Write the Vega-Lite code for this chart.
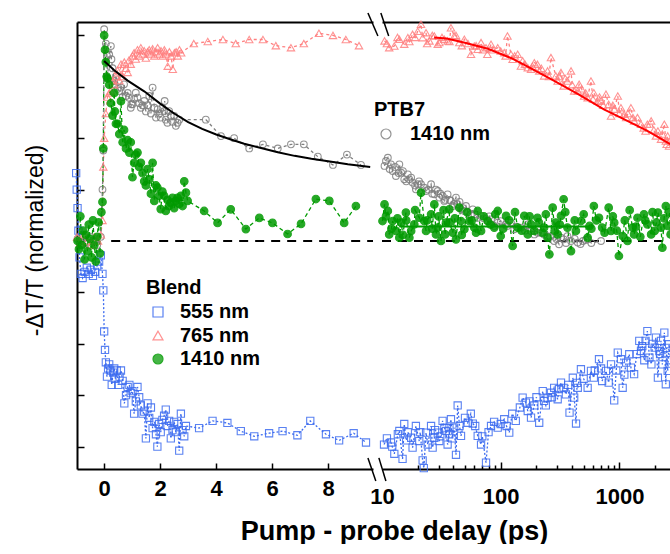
{
  "$schema": "https://vega.github.io/schema/vega-lite/v6.json",
  "padding": {"left": 24, "top": 12, "right": 0, "bottom": 0},
  "bounds": "flush",
  "spacing": 9,
  "config": {
    "view": {"stroke": null},
    "font": "Liberation Sans",
    "axis": {"grid": false, "domainColor": "black", "tickColor": "black", "labelColor": "black", "titleColor": "black", "labelFont": "Liberation Sans", "titleFont": "Liberation Sans"},
    "legend": {"labelFont": "Liberation Sans", "titleFont": "Liberation Sans", "labelColor": "black", "titleColor": "black"}
  },
  "datasets": {
    "d": [
      {"k":"b555","t":-1,"v":0.33},{"k":"b555","t":-0.98,"v":0.25},{"k":"b555","t":-0.95,"v":0.16},{"k":"b555","t":-0.92,"v":0.05},{"k":"b555","t":-0.88,"v":-0.08},{"k":"b555","t":-0.83,"v":-0.16},{"k":"b555","t":-0.77,"v":-0.18},{"k":"b555","t":-0.7,"v":-0.15},{"k":"b555","t":-0.62,"v":-0.13},{"k":"b555","t":-0.55,"v":-0.16},{"k":"b555","t":-0.48,"v":-0.14},{"k":"b555","t":-0.4,"v":-0.17},{"k":"b555","t":-0.33,"v":-0.15},{"k":"b555","t":-0.25,"v":-0.12},{"k":"b555","t":-0.18,"v":-0.1},{"k":"b555","t":-0.12,"v":-0.07},{"k":"b555","t":-0.06,"v":-0.16},{"k":"b555","t":-0.03,"v":-0.24},{"k":"b555","t":0,"v":-0.44},{"k":"b555","t":0.03,"v":-0.53},{"k":"b555","t":0.06,"v":-0.59},{"k":"b555","t":0.1,"v":-0.66},{"k":"b555","t":0.14,"v":-0.62},{"k":"b555","t":0.18,"v":-0.6},{"k":"b555","t":0.22,"v":-0.63},{"k":"b555","t":0.27,"v":-0.7},{"k":"b555","t":0.32,"v":-0.64},{"k":"b555","t":0.36,"v":-0.62},{"k":"b555","t":0.4,"v":-0.67},{"k":"b555","t":0.45,"v":-0.63},{"k":"b555","t":0.5,"v":-0.7},{"k":"b555","t":0.55,"v":-0.66},{"k":"b555","t":0.6,"v":-0.63},{"k":"b555","t":0.66,"v":-0.68},{"k":"b555","t":0.72,"v":-0.79},{"k":"b555","t":0.78,"v":-0.75},{"k":"b555","t":0.84,"v":-0.71},{"k":"b555","t":0.9,"v":-0.7},{"k":"b555","t":0.95,"v":-0.74},{"k":"b555","t":1.01,"v":-0.73},{"k":"b555","t":1.07,"v":-0.84},{"k":"b555","t":1.13,"v":-0.78},{"k":"b555","t":1.19,"v":-0.71},{"k":"b555","t":1.25,"v":-0.76},{"k":"b555","t":1.31,"v":-0.8},{"k":"b555","t":1.37,"v":-0.84},{"k":"b555","t":1.43,"v":-0.83},{"k":"b555","t":1.49,"v":-0.96},{"k":"b555","t":1.55,"v":-0.79},{"k":"b555","t":1.61,"v":-0.86},{"k":"b555","t":1.67,"v":-0.81},{"k":"b555","t":1.73,"v":-0.91},{"k":"b555","t":1.79,"v":-0.88},{"k":"b555","t":1.85,"v":-0.94},{"k":"b555","t":1.9,"v":-1},{"k":"b555","t":1.96,"v":-0.89},{"k":"b555","t":2.02,"v":-0.93},{"k":"b555","t":2.08,"v":-0.87},{"k":"b555","t":2.14,"v":-0.85},{"k":"b555","t":2.2,"v":-0.82},{"k":"b555","t":2.26,"v":-0.9},{"k":"b555","t":2.32,"v":-0.875},{"k":"b555","t":2.38,"v":-0.96},{"k":"b555","t":2.44,"v":-0.92},{"k":"b555","t":2.5,"v":-0.88},{"k":"b555","t":2.56,"v":-0.93},{"k":"b555","t":2.62,"v":-0.89},{"k":"b555","t":2.68,"v":-1.02},{"k":"b555","t":2.74,"v":-0.84},{"k":"b555","t":2.8,"v":-0.92},{"k":"b555","t":2.86,"v":-0.95},{"k":"b555","t":2.92,"v":-0.9},{"k":"b555","t":3.39,"v":-0.91},{"k":"b555","t":3.87,"v":-0.875},{"k":"b555","t":4.4,"v":-0.885},{"k":"b555","t":4.88,"v":-0.925},{"k":"b555","t":5.36,"v":-0.95},{"k":"b555","t":5.89,"v":-0.935},{"k":"b555","t":6.37,"v":-0.925},{"k":"b555","t":6.9,"v":-0.945},{"k":"b555","t":7.36,"v":-0.875},{"k":"b555","t":7.92,"v":-0.94},{"k":"b555","t":8.39,"v":-0.97},{"k":"b555","t":8.91,"v":-0.935},{"k":"b555","t":9.35,"v":-0.98},
      {"k":"b555","t":10.4,"v":-0.99},{"k":"b555","t":11.9,"v":-0.98},{"k":"b555","t":13.6,"v":-0.94},{"k":"b555","t":12.7,"v":-1.035},{"k":"b555","t":14.9,"v":-1.06},{"k":"b555","t":15.4,"v":-0.89},{"k":"b555","t":16.5,"v":-0.93},{"k":"b555","t":18.1,"v":-1.005},{"k":"b555","t":19.3,"v":-0.9},{"k":"b555","t":22,"v":-1.067},{"k":"b555","t":22.5,"v":-1.105},{"k":"b555","t":24.3,"v":-0.99},{"k":"b555","t":25.9,"v":-0.9},{"k":"b555","t":27.6,"v":-0.957},{"k":"b555","t":29.5,"v":-0.932},{"k":"b555","t":32.4,"v":-0.875},{"k":"b555","t":34.6,"v":-0.924},{"k":"b555","t":35.7,"v":-0.99},{"k":"b555","t":38.1,"v":-0.867},{"k":"b555","t":42,"v":-1.04},{"k":"b555","t":43.4,"v":-0.8},{"k":"b555","t":46.3,"v":-0.948},{"k":"b555","t":52.7,"v":-0.884},{"k":"b555","t":58.2,"v":-0.888},{"k":"b555","t":64,"v":-0.948},{"k":"b555","t":68.3,"v":-0.99},{"k":"b555","t":75.2,"v":-1.078},{"k":"b555","t":82.9,"v":-0.9},{"k":"b555","t":94.4,"v":-0.908},{"k":"b555","t":107,"v":-0.867},{"k":"b555","t":118,"v":-0.932},{"k":"b555","t":134,"v":-0.875},{"k":"b555","t":153,"v":-0.762},{"k":"b555","t":169,"v":-0.827},{"k":"b555","t":192,"v":-0.8},{"k":"b555","t":211,"v":-0.884},{"k":"b555","t":226,"v":-0.73},{"k":"b555","t":248,"v":-0.762},{"k":"b555","t":282,"v":-0.714},{"k":"b555","t":322,"v":-0.689},{"k":"b555","t":354,"v":-0.746},{"k":"b555","t":380,"v":-0.835},{"k":"b555","t":405,"v":-0.665},{"k":"b555","t":431,"v":-0.888},{"k":"b555","t":474,"v":-0.624},{"k":"b555","t":540,"v":-0.714},{"k":"b555","t":576,"v":-0.632},{"k":"b555","t":673,"v":-0.575},{"k":"b555","t":715,"v":-0.681},{"k":"b555","t":812,"v":-0.689},{"k":"b555","t":904,"v":-0.775},{"k":"b555","t":969,"v":-0.543},{"k":"b555","t":1065,"v":-0.714},{"k":"b555","t":1140,"v":-0.592},{"k":"b555","t":1210,"v":-0.551},{"k":"b555","t":1330,"v":-0.648},{"k":"b555","t":1470,"v":-0.486},{"k":"b555","t":1560,"v":-0.511},{"k":"b555","t":1720,"v":-0.438},{"k":"b555","t":1860,"v":-0.6},{"k":"b555","t":1980,"v":-0.519},{"k":"b555","t":2110,"v":-0.665},{"k":"b555","t":2240,"v":-0.486},{"k":"b555","t":2390,"v":-0.446},{"k":"b555","t":2460,"v":-0.697},{"k":"b555","t":2620,"v":-0.502},{"k":"b555","t":14,"v":-0.924},{"k":"b555","t":17.6,"v":-0.957},{"k":"b555","t":20.6,"v":-0.973},{"k":"b555","t":23.5,"v":-0.932},{"k":"b555","t":26.7,"v":-1.005},{"k":"b555","t":30.4,"v":-0.973},{"k":"b555","t":33.5,"v":-0.908},{"k":"b555","t":36.9,"v":-0.94},{"k":"b555","t":40.6,"v":-0.908},{"k":"b555","t":163,"v":-0.786},{"k":"b555","t":180,"v":-0.859},{"k":"b555","t":232,"v":-0.778},{"k":"b555","t":265,"v":-0.738},{"k":"b555","t":302,"v":-0.77},{"k":"b555","t":339,"v":-0.714},{"k":"b555","t":416,"v":-0.762},{"k":"b555","t":446,"v":-0.714},{"k":"b555","t":609,"v":-0.665},{"k":"b555","t":771,"v":-0.632},{"k":"b555","t":1030,"v":-0.575},{"k":"b555","t":1250,"v":-0.616},{"k":"b555","t":1520,"v":-0.535},{"k":"b555","t":1660,"v":-0.486},{"k":"b555","t":1790,"v":-0.567},{"k":"b555","t":2030,"v":-0.47},{"k":"b555","t":2170,"v":-0.535},{"k":"b555","t":2300,"v":-0.6},{"k":"b555","t":2550,"v":-0.632},
      {"k":"b555","t":11,"v":-0.96},{"k":"b555","t":12.2,"v":-1},{"k":"b555","t":16,"v":-0.97},{"k":"b555","t":21,"v":-0.93},{"k":"b555","t":28,"v":-0.92},{"k":"b555","t":31,"v":-0.95},{"k":"b555","t":37,"v":-0.91},{"k":"b555","t":39,"v":-0.96},{"k":"b555","t":45,"v":-0.9},{"k":"b555","t":50,"v":-0.86},{"k":"b555","t":56,"v":-0.84},{"k":"b555","t":61,"v":-0.9},{"k":"b555","t":70,"v":-0.95},{"k":"b555","t":79,"v":-0.93},{"k":"b555","t":88,"v":-0.88},{"k":"b555","t":100,"v":-0.89},{"k":"b555","t":112,"v":-0.9},{"k":"b555","t":125,"v":-0.84},{"k":"b555","t":145,"v":-0.81},{"k":"b555","t":175,"v":-0.78},{"k":"b555","t":200,"v":-0.76},{"k":"b555","t":240,"v":-0.8},{"k":"b555","t":270,"v":-0.76},{"k":"b555","t":310,"v":-0.72},{"k":"b555","t":370,"v":-0.7},{"k":"b555","t":440,"v":-0.69},{"k":"b555","t":500,"v":-0.67},{"k":"b555","t":620,"v":-0.63},{"k":"b555","t":700,"v":-0.62},{"k":"b555","t":850,"v":-0.6},{"k":"b555","t":940,"v":-0.63},{"k":"b555","t":1100,"v":-0.65},{"k":"b555","t":1400,"v":-0.55},{"k":"b555","t":1620,"v":-0.58},{"k":"b555","t":1900,"v":-0.5},{"k":"b555","t":2200,"v":-0.55},{"k":"b555","t":2500,"v":-0.52},{"k":"b555","t":2700,"v":-0.58},
      {"k":"b765","t":-0.97,"v":0.02},{"k":"b765","t":-0.85,"v":-0.01},{"k":"b765","t":-0.72,"v":0.03},{"k":"b765","t":-0.6,"v":0},{"k":"b765","t":-0.47,"v":-0.02},{"k":"b765","t":-0.35,"v":0.02},{"k":"b765","t":-0.22,"v":0},{"k":"b765","t":-0.12,"v":0.03},{"k":"b765","t":-0.06,"v":0.1},{"k":"b765","t":-0.03,"v":0.36},{"k":"b765","t":0,"v":0.5},{"k":"b765","t":0.06,"v":0.62},{"k":"b765","t":0.12,"v":0.7},{"k":"b765","t":0.18,"v":0.72},{"k":"b765","t":0.24,"v":0.73},{"k":"b765","t":0.3,"v":0.78},{"k":"b765","t":0.36,"v":0.76},{"k":"b765","t":0.42,"v":0.8},{"k":"b765","t":0.48,"v":0.83},{"k":"b765","t":0.54,"v":0.78},{"k":"b765","t":0.6,"v":0.86},{"k":"b765","t":0.66,"v":0.8},{"k":"b765","t":0.72,"v":0.87},{"k":"b765","t":0.78,"v":0.84},{"k":"b765","t":0.84,"v":0.82},{"k":"b765","t":0.89,"v":0.88},{"k":"b765","t":0.95,"v":0.86},{"k":"b765","t":1.01,"v":0.9},{"k":"b765","t":1.07,"v":0.915},{"k":"b765","t":1.13,"v":0.885},{"k":"b765","t":1.19,"v":0.93},{"k":"b765","t":1.25,"v":0.9},{"k":"b765","t":1.31,"v":0.94},{"k":"b765","t":1.37,"v":0.91},{"k":"b765","t":1.43,"v":0.925},{"k":"b765","t":1.49,"v":0.89},{"k":"b765","t":1.55,"v":0.92},{"k":"b765","t":1.61,"v":0.93},{"k":"b765","t":1.67,"v":0.91},{"k":"b765","t":1.73,"v":0.935},{"k":"b765","t":1.79,"v":0.9},{"k":"b765","t":1.85,"v":0.92},{"k":"b765","t":1.91,"v":0.94},{"k":"b765","t":1.97,"v":0.91},{"k":"b765","t":2.03,"v":0.925},{"k":"b765","t":2.09,"v":0.9},{"k":"b765","t":2.15,"v":0.93},{"k":"b765","t":2.21,"v":0.91},{"k":"b765","t":2.27,"v":0.85},{"k":"b765","t":2.33,"v":0.92},{"k":"b765","t":2.39,"v":0.9},{"k":"b765","t":2.45,"v":0.835},{"k":"b765","t":2.51,"v":0.915},{"k":"b765","t":2.57,"v":0.92},{"k":"b765","t":2.63,"v":0.9},{"k":"b765","t":2.69,"v":0.93},{"k":"b765","t":2.75,"v":0.915},{"k":"b765","t":3.2,"v":0.96},{"k":"b765","t":3.7,"v":0.97},{"k":"b765","t":4.24,"v":0.98},{"k":"b765","t":4.7,"v":0.96},{"k":"b765","t":5.18,"v":0.98},{"k":"b765","t":5.67,"v":0.98},{"k":"b765","t":6.13,"v":0.95},{"k":"b765","t":6.67,"v":0.94},{"k":"b765","t":7.13,"v":0.96},{"k":"b765","t":7.67,"v":1.01},{"k":"b765","t":8.17,"v":1},{"k":"b765","t":8.63,"v":0.98},{"k":"b765","t":9.1,"v":0.95},
      {"k":"b765","t":10.5,"v":0.973},{"k":"b765","t":11.5,"v":0.94},{"k":"b765","t":12.7,"v":0.948},{"k":"b765","t":14,"v":0.981},{"k":"b765","t":15.4,"v":0.957},{"k":"b765","t":16.5,"v":0.989},{"k":"b765","t":18.1,"v":1.005},{"k":"b765","t":20,"v":1.02},{"k":"b765","t":21.3,"v":1.054},{"k":"b765","t":22,"v":0.989},{"k":"b765","t":23.5,"v":1.013},{"k":"b765","t":25.1,"v":0.973},{"k":"b765","t":27.6,"v":0.997},{"k":"b765","t":30.4,"v":0.965},{"k":"b765","t":33.5,"v":0.981},{"k":"b765","t":38.1,"v":1.037},{"k":"b765","t":40.6,"v":0.997},{"k":"b765","t":44.8,"v":0.965},{"k":"b765","t":49.4,"v":0.981},{"k":"b765","t":56.2,"v":0.908},{"k":"b765","t":59.9,"v":0.948},{"k":"b765","t":68.3,"v":0.965},{"k":"b765","t":75.2,"v":0.94},{"k":"b765","t":82.9,"v":0.957},{"k":"b765","t":94.4,"v":0.94},{"k":"b765","t":107,"v":0.916},{"k":"b765","t":114,"v":0.997},{"k":"b765","t":126,"v":0.884},{"k":"b765","t":139,"v":0.908},{"k":"b765","t":153,"v":0.876},{"k":"b765","t":169,"v":0.843},{"k":"b765","t":192,"v":0.867},{"k":"b765","t":211,"v":0.827},{"k":"b765","t":232,"v":0.803},{"k":"b765","t":265,"v":0.892},{"k":"b765","t":291,"v":0.803},{"k":"b765","t":322,"v":0.819},{"k":"b765","t":339,"v":0.754},{"k":"b765","t":391,"v":0.827},{"k":"b765","t":416,"v":0.73},{"k":"b765","t":458,"v":0.762},{"k":"b765","t":504,"v":0.705},{"k":"b765","t":576,"v":0.778},{"k":"b765","t":609,"v":0.721},{"k":"b765","t":700,"v":0.681},{"k":"b765","t":770,"v":0.714},{"k":"b765","t":850,"v":0.608},{"k":"b765","t":969,"v":0.705},{"k":"b765","t":1030,"v":0.648},{"k":"b765","t":1140,"v":0.6},{"k":"b765","t":1250,"v":0.648},{"k":"b765","t":1330,"v":0.584},{"k":"b765","t":1520,"v":0.568},{"k":"b765","t":1660,"v":0.535},{"k":"b765","t":1850,"v":0.584},{"k":"b765","t":2030,"v":0.511},{"k":"b765","t":2240,"v":0.495},{"k":"b765","t":2460,"v":0.486},{"k":"b765","t":2620,"v":0.462},{"k":"b765","t":2390,"v":0.568},{"k":"b765","t":29.5,"v":0.957},{"k":"b765","t":35.7,"v":0.973},{"k":"b765","t":64,"v":0.932},{"k":"b765","t":77.2,"v":0.908},{"k":"b765","t":100,"v":0.924},{"k":"b765","t":122,"v":0.908},{"k":"b765","t":148,"v":0.851},{"k":"b765","t":180,"v":0.835},{"k":"b765","t":204,"v":0.859},{"k":"b765","t":248,"v":0.827},{"k":"b765","t":302,"v":0.778},{"k":"b765","t":365,"v":0.778},{"k":"b765","t":446,"v":0.73},{"k":"b765","t":540,"v":0.697},{"k":"b765","t":656,"v":0.681},{"k":"b765","t":812,"v":0.665},{"k":"b765","t":904,"v":0.641},{"k":"b765","t":1095,"v":0.616},{"k":"b765","t":1420,"v":0.6},{"k":"b765","t":1720,"v":0.568},{"k":"b765","t":2110,"v":0.535},{"k":"b765","t":2550,"v":0.511},
      {"k":"b765","t":11,"v":0.96},{"k":"b765","t":13.5,"v":0.99},{"k":"b765","t":17,"v":0.97},{"k":"b765","t":19,"v":0.99},{"k":"b765","t":24,"v":0.96},{"k":"b765","t":26.5,"v":1},{"k":"b765","t":32,"v":0.99},{"k":"b765","t":37,"v":0.97},{"k":"b765","t":42,"v":1},{"k":"b765","t":47,"v":0.95},{"k":"b765","t":53,"v":0.96},{"k":"b765","t":62,"v":0.95},{"k":"b765","t":71,"v":0.93},{"k":"b765","t":86,"v":0.93},{"k":"b765","t":110,"v":0.9},{"k":"b765","t":131,"v":0.9},{"k":"b765","t":160,"v":0.86},{"k":"b765","t":185,"v":0.85},{"k":"b765","t":220,"v":0.84},{"k":"b765","t":255,"v":0.8},{"k":"b765","t":310,"v":0.8},{"k":"b765","t":350,"v":0.79},{"k":"b765","t":400,"v":0.76},{"k":"b765","t":480,"v":0.74},{"k":"b765","t":520,"v":0.72},{"k":"b765","t":600,"v":0.69},{"k":"b765","t":680,"v":0.7},{"k":"b765","t":730,"v":0.66},{"k":"b765","t":880,"v":0.66},{"k":"b765","t":1000,"v":0.62},{"k":"b765","t":1180,"v":0.62},{"k":"b765","t":1300,"v":0.6},{"k":"b765","t":1600,"v":0.55},{"k":"b765","t":1950,"v":0.54},{"k":"b765","t":2300,"v":0.52},{"k":"b765","t":2500,"v":0.47},{"k":"b765","t":2680,"v":0.49},
      {"k":"b1410","t":-0.95,"v":0},{"k":"b1410","t":-0.9,"v":-0.04},{"k":"b1410","t":-0.85,"v":0.12},{"k":"b1410","t":-0.8,"v":-0.02},{"k":"b1410","t":-0.75,"v":0.05},{"k":"b1410","t":-0.7,"v":-0.09},{"k":"b1410","t":-0.65,"v":0.03},{"k":"b1410","t":-0.6,"v":-0.05},{"k":"b1410","t":-0.55,"v":0.08},{"k":"b1410","t":-0.5,"v":0.01},{"k":"b1410","t":-0.45,"v":-0.08},{"k":"b1410","t":-0.4,"v":0.1},{"k":"b1410","t":-0.35,"v":-0.02},{"k":"b1410","t":-0.3,"v":-0.1},{"k":"b1410","t":-0.25,"v":0.02},{"k":"b1410","t":-0.2,"v":0.09},{"k":"b1410","t":-0.15,"v":-0.06},{"k":"b1410","t":-0.1,"v":0.14},{"k":"b1410","t":-0.06,"v":0.19},{"k":"b1410","t":-0.03,"v":0.45},{"k":"b1410","t":0,"v":1},{"k":"b1410","t":0.03,"v":0.93},{"k":"b1410","t":0.06,"v":0.87},{"k":"b1410","t":0.09,"v":0.8},{"k":"b1410","t":0.12,"v":0.79},{"k":"b1410","t":0.18,"v":0.76},{"k":"b1410","t":0.24,"v":0.67},{"k":"b1410","t":0.3,"v":0.61},{"k":"b1410","t":0.36,"v":0.72},{"k":"b1410","t":0.38,"v":0.63},{"k":"b1410","t":0.42,"v":0.57},{"k":"b1410","t":0.48,"v":0.57},{"k":"b1410","t":0.54,"v":0.52},{"k":"b1410","t":0.6,"v":0.68},{"k":"b1410","t":0.66,"v":0.48},{"k":"b1410","t":0.71,"v":0.54},{"k":"b1410","t":0.78,"v":0.45},{"k":"b1410","t":0.84,"v":0.49},{"k":"b1410","t":0.9,"v":0.43},{"k":"b1410","t":0.95,"v":0.48},{"k":"b1410","t":1.01,"v":0.31},{"k":"b1410","t":1.07,"v":0.38},{"k":"b1410","t":1.13,"v":0.42},{"k":"b1410","t":1.19,"v":0.43},{"k":"b1410","t":1.25,"v":0.36},{"k":"b1410","t":1.31,"v":0.38},{"k":"b1410","t":1.37,"v":0.33},{"k":"b1410","t":1.43,"v":0.29},{"k":"b1410","t":1.49,"v":0.27},{"k":"b1410","t":1.55,"v":0.35},{"k":"b1410","t":1.61,"v":0.3},{"k":"b1410","t":1.67,"v":0.23},{"k":"b1410","t":1.73,"v":0.38},{"k":"b1410","t":1.79,"v":0.195},{"k":"b1410","t":1.85,"v":0.27},{"k":"b1410","t":1.9,"v":0.26},{"k":"b1410","t":1.96,"v":0.22},{"k":"b1410","t":2.02,"v":0.155},{"k":"b1410","t":2.08,"v":0.24},{"k":"b1410","t":2.14,"v":0.22},{"k":"b1410","t":2.2,"v":0.146},{"k":"b1410","t":2.26,"v":0.2},{"k":"b1410","t":2.32,"v":0.17},{"k":"b1410","t":2.38,"v":0.185},{"k":"b1410","t":2.44,"v":0.21},{"k":"b1410","t":2.5,"v":0.16},{"k":"b1410","t":2.56,"v":0.195},{"k":"b1410","t":2.62,"v":0.21},{"k":"b1410","t":2.68,"v":0.18},{"k":"b1410","t":2.74,"v":0.22},{"k":"b1410","t":2.8,"v":0.17},{"k":"b1410","t":2.86,"v":0.29},{"k":"b1410","t":2.92,"v":0.235},{"k":"b1410","t":2.98,"v":0.195},{"k":"b1410","t":3.57,"v":0.146},{"k":"b1410","t":4.05,"v":0.088},{"k":"b1410","t":4.52,"v":0.154},{"k":"b1410","t":5.06,"v":0.058},{"k":"b1410","t":5.54,"v":0.112},{"k":"b1410","t":6.01,"v":0.088},{"k":"b1410","t":6.55,"v":0.034},{"k":"b1410","t":7.03,"v":0.083},{"k":"b1410","t":7.56,"v":0.204},{"k":"b1410","t":8.04,"v":0.195},{"k":"b1410","t":8.57,"v":0.088},{"k":"b1410","t":8.99,"v":0.17},
      {"k":"b1410","t":10.5,"v":0.178},{"k":"b1410","t":11.2,"v":0.146},{"k":"b1410","t":10.1,"v":0.097},{"k":"b1410","t":12.3,"v":0.097},{"k":"b1410","t":13.1,"v":0.049},{"k":"b1410","t":14.5,"v":0.089},{"k":"b1410","t":15.9,"v":0.138},{"k":"b1410","t":17.6,"v":0.049},{"k":"b1410","t":18.7,"v":0.081},{"k":"b1410","t":21.3,"v":0.235},{"k":"b1410","t":20.6,"v":0.113},{"k":"b1410","t":23.5,"v":0.049},{"k":"b1410","t":25.9,"v":0.13},{"k":"b1410","t":27.6,"v":0.178},{"k":"b1410","t":29.5,"v":0.065},{"k":"b1410","t":31.4,"v":0},{"k":"b1410","t":34.6,"v":0.089},{"k":"b1410","t":36.9,"v":0.154},{"k":"b1410","t":39.4,"v":0.04},{"k":"b1410","t":42,"v":0.008},{"k":"b1410","t":44.8,"v":0.162},{"k":"b1410","t":49.4,"v":0.057},{"k":"b1410","t":54.4,"v":0.097},{"k":"b1410","t":64,"v":0.146},{"k":"b1410","t":68.3,"v":0.049},{"k":"b1410","t":77.7,"v":0.097},{"k":"b1410","t":94.4,"v":0.146},{"k":"b1410","t":100,"v":0.024},{"k":"b1410","t":111,"v":0.122},{"k":"b1410","t":126,"v":-0.024},{"k":"b1410","t":139,"v":0.065},{"k":"b1410","t":158,"v":0.122},{"k":"b1410","t":180,"v":0.081},{"k":"b1410","t":204,"v":0.113},{"k":"b1410","t":225,"v":0.04},{"k":"b1410","t":248,"v":0.016},{"k":"b1410","t":257,"v":-0.065},{"k":"b1410","t":274,"v":0.162},{"k":"b1410","t":291,"v":0.089},{"k":"b1410","t":322,"v":0.122},{"k":"b1410","t":339,"v":0.203},{"k":"b1410","t":365,"v":0.065},{"k":"b1410","t":391,"v":-0.049},{"k":"b1410","t":430,"v":0.049},{"k":"b1410","t":474,"v":0.097},{"k":"b1410","t":540,"v":0.016},{"k":"b1410","t":609,"v":0.17},{"k":"b1410","t":673,"v":0.113},{"k":"b1410","t":812,"v":0.162},{"k":"b1410","t":904,"v":0.089},{"k":"b1410","t":990,"v":-0.073},{"k":"b1410","t":1065,"v":0.024},{"k":"b1410","t":1170,"v":0},{"k":"b1410","t":1290,"v":0.065},{"k":"b1410","t":1420,"v":0.113},{"k":"b1410","t":1610,"v":0.13},{"k":"b1410","t":1720,"v":0.081},{"k":"b1410","t":1980,"v":0.049},{"k":"b1410","t":2110,"v":0.138},{"k":"b1410","t":2300,"v":-0.033},{"k":"b1410","t":2460,"v":0.17},{"k":"b1410","t":2550,"v":0.073},{"k":"b1410","t":2700,"v":0.032},{"k":"b1410","t":11.5,"v":0.032},{"k":"b1410","t":14,"v":0.016},{"k":"b1410","t":17,"v":0.016},{"k":"b1410","t":22.7,"v":0.097},{"k":"b1410","t":28.5,"v":0.032},{"k":"b1410","t":34,"v":0.032},{"k":"b1410","t":46.3,"v":0.097},{"k":"b1410","t":59.9,"v":0.065},{"k":"b1410","t":88.3,"v":0.065},{"k":"b1410","t":169,"v":0.032},{"k":"b1410","t":192,"v":0.049},{"k":"b1410","t":232,"v":0.065},{"k":"b1410","t":302,"v":0.032},{"k":"b1410","t":560,"v":0.073},{"k":"b1410","t":715,"v":0.065},{"k":"b1410","t":850,"v":0.049},{"k":"b1410","t":1330,"v":0.032},{"k":"b1410","t":1850,"v":0.032},{"k":"b1410","t":2240,"v":0.065},
      {"k":"b1410","t":10.8,"v":0.12},{"k":"b1410","t":12,"v":0.06},{"k":"b1410","t":13.5,"v":0.11},{"k":"b1410","t":15,"v":0.03},{"k":"b1410","t":16,"v":0.1},{"k":"b1410","t":19,"v":0.15},{"k":"b1410","t":24,"v":0.1},{"k":"b1410","t":26.5,"v":0.06},{"k":"b1410","t":30,"v":0.12},{"k":"b1410","t":33,"v":0.15},{"k":"b1410","t":37,"v":0.09},{"k":"b1410","t":41,"v":0.11},{"k":"b1410","t":47,"v":0.03},{"k":"b1410","t":52,"v":0.14},{"k":"b1410","t":57,"v":0.1},{"k":"b1410","t":62,"v":0.04},{"k":"b1410","t":72,"v":0.12},{"k":"b1410","t":82,"v":0.08},{"k":"b1410","t":90,"v":0.13},{"k":"b1410","t":105,"v":0.06},{"k":"b1410","t":118,"v":0.1},{"k":"b1410","t":132,"v":0.14},{"k":"b1410","t":150,"v":0.05},{"k":"b1410","t":175,"v":0.12},{"k":"b1410","t":210,"v":0.09},{"k":"b1410","t":240,"v":0.13},{"k":"b1410","t":285,"v":0.05},{"k":"b1410","t":315,"v":0.08},{"k":"b1410","t":350,"v":0.14},{"k":"b1410","t":420,"v":0.1},{"k":"b1410","t":500,"v":0.13},{"k":"b1410","t":580,"v":0.06},{"k":"b1410","t":640,"v":0.1},{"k":"b1410","t":750,"v":0.04},{"k":"b1410","t":880,"v":0.12},{"k":"b1410","t":950,"v":0.05},{"k":"b1410","t":1110,"v":0.1},{"k":"b1410","t":1220,"v":0.15},{"k":"b1410","t":1380,"v":0.07},{"k":"b1410","t":1500,"v":0.02},{"k":"b1410","t":1650,"v":0.1},{"k":"b1410","t":1900,"v":0.14},{"k":"b1410","t":2050,"v":0.09},{"k":"b1410","t":2380,"v":0.11},{"k":"b1410","t":2640,"v":0.14},
      {"k":"p1410","t":-0.95,"v":0.01},{"k":"p1410","t":-0.85,"v":-0.02},{"k":"p1410","t":-0.75,"v":0.02},{"k":"p1410","t":-0.62,"v":-0.01},{"k":"p1410","t":-0.5,"v":0.02},{"k":"p1410","t":-0.38,"v":0},{"k":"p1410","t":-0.25,"v":-0.02},{"k":"p1410","t":-0.12,"v":0.02},{"k":"p1410","t":-0.06,"v":0.25},{"k":"p1410","t":-0.03,"v":0.44},{"k":"p1410","t":0,"v":1.03},{"k":"p1410","t":0.06,"v":0.96},{"k":"p1410","t":0.1,"v":0.9},{"k":"p1410","t":0.12,"v":0.794},{"k":"p1410","t":0.18,"v":0.908},{"k":"p1410","t":0.24,"v":0.948},{"k":"p1410","t":0.26,"v":0.884},{"k":"p1410","t":0.3,"v":0.84},{"k":"p1410","t":0.36,"v":0.778},{"k":"p1410","t":0.38,"v":0.762},{"k":"p1410","t":0.42,"v":0.8},{"k":"p1410","t":0.48,"v":0.74},{"k":"p1410","t":0.54,"v":0.73},{"k":"p1410","t":0.6,"v":0.746},{"k":"p1410","t":0.66,"v":0.7},{"k":"p1410","t":0.71,"v":0.762},{"k":"p1410","t":0.78,"v":0.705},{"k":"p1410","t":0.84,"v":0.72},{"k":"p1410","t":0.89,"v":0.697},{"k":"p1410","t":0.95,"v":0.648},{"k":"p1410","t":0.97,"v":0.665},{"k":"p1410","t":1.01,"v":0.665},{"k":"p1410","t":1.07,"v":0.69},{"k":"p1410","t":1.13,"v":0.721},{"k":"p1410","t":1.19,"v":0.697},{"k":"p1410","t":1.25,"v":0.67},{"k":"p1410","t":1.31,"v":0.648},{"k":"p1410","t":1.37,"v":0.66},{"k":"p1410","t":1.43,"v":0.681},{"k":"p1410","t":1.49,"v":0.63},{"k":"p1410","t":1.55,"v":0.66},{"k":"p1410","t":1.61,"v":0.705},{"k":"p1410","t":1.67,"v":0.62},{"k":"p1410","t":1.73,"v":0.746},{"k":"p1410","t":1.79,"v":0.648},{"k":"p1410","t":1.85,"v":0.6},{"k":"p1410","t":1.91,"v":0.64},{"k":"p1410","t":1.97,"v":0.62},{"k":"p1410","t":2.02,"v":0.6},{"k":"p1410","t":2.08,"v":0.648},{"k":"p1410","t":2.14,"v":0.632},{"k":"p1410","t":2.16,"v":0.681},{"k":"p1410","t":2.2,"v":0.59},{"k":"p1410","t":2.26,"v":0.575},{"k":"p1410","t":2.32,"v":0.632},{"k":"p1410","t":2.38,"v":0.608},{"k":"p1410","t":2.44,"v":0.58},{"k":"p1410","t":2.5,"v":0.608},{"k":"p1410","t":2.56,"v":0.56},{"k":"p1410","t":2.62,"v":0.575},{"k":"p1410","t":2.68,"v":0.59},{"k":"p1410","t":3.63,"v":0.59},{"k":"p1410","t":4.17,"v":0.51},{"k":"p1410","t":4.64,"v":0.5},{"k":"p1410","t":5.18,"v":0.45},{"k":"p1410","t":5.67,"v":0.47},{"k":"p1410","t":6.2,"v":0.45},{"k":"p1410","t":6.67,"v":0.47},{"k":"p1410","t":7.13,"v":0.47},{"k":"p1410","t":7.63,"v":0.41},{"k":"p1410","t":8.17,"v":0.37},{"k":"p1410","t":8.67,"v":0.42},{"k":"p1410","t":9.17,"v":0.37},
      {"k":"p1410","t":10.5,"v":0.365},{"k":"p1410","t":11.2,"v":0.405},{"k":"p1410","t":12.3,"v":0.34},{"k":"p1410","t":13.1,"v":0.316},{"k":"p1410","t":14,"v":0.373},{"k":"p1410","t":15.4,"v":0.3},{"k":"p1410","t":16.5,"v":0.324},{"k":"p1410","t":18.1,"v":0.284},{"k":"p1410","t":19.3,"v":0.251},{"k":"p1410","t":21.3,"v":0.276},{"k":"p1410","t":23.5,"v":0.243},{"k":"p1410","t":25.9,"v":0.276},{"k":"p1410","t":27.6,"v":0.227},{"k":"p1410","t":30.4,"v":0.211},{"k":"p1410","t":33.5,"v":0.195},{"k":"p1410","t":35.7,"v":0.227},{"k":"p1410","t":39.4,"v":0.17},{"k":"p1410","t":42,"v":0.211},{"k":"p1410","t":46.3,"v":0.154},{"k":"p1410","t":51,"v":0.17},{"k":"p1410","t":56.2,"v":0.13},{"k":"p1410","t":64,"v":0.113},{"k":"p1410","t":77.7,"v":0.097},{"k":"p1410","t":88.3,"v":0.073},{"k":"p1410","t":100,"v":0.097},{"k":"p1410","t":122,"v":0.089},{"k":"p1410","t":148,"v":0.065},{"k":"p1410","t":169,"v":0.081},{"k":"p1410","t":192,"v":0.032},{"k":"p1410","t":218,"v":0.04},{"k":"p1410","t":248,"v":0.024},{"k":"p1410","t":282,"v":0},{"k":"p1410","t":310,"v":-0.016},{"k":"p1410","t":339,"v":0.008},{"k":"p1410","t":391,"v":0},{"k":"p1410","t":446,"v":-0.008},{"k":"p1410","t":493,"v":0},{"k":"p1410","t":540,"v":0.008},{"k":"p1410","t":700,"v":0},{"k":"p1410","t":10.8,"v":0.389},{"k":"p1410","t":11.9,"v":0.373},{"k":"p1410","t":14.5,"v":0.332},{"k":"p1410","t":17.6,"v":0.308},{"k":"p1410","t":20,"v":0.276},{"k":"p1410","t":22.7,"v":0.259},{"k":"p1410","t":29.5,"v":0.243},{"k":"p1410","t":32.4,"v":0.219},{"k":"p1410","t":38.1,"v":0.195},{"k":"p1410","t":43.4,"v":0.178},{"k":"p1410","t":49.4,"v":0.146},{"k":"p1410","t":58.2,"v":0.154},{"k":"p1410","t":68.3,"v":0.122},{"k":"p1410","t":82.9,"v":0.105},{"k":"p1410","t":94.4,"v":0.089},{"k":"p1410","t":114,"v":0.073},{"k":"p1410","t":130,"v":0.057},{"k":"p1410","t":180,"v":0.049},{"k":"p1410","t":232,"v":0.032},{"k":"p1410","t":322,"v":0.016},{"k":"p1410","t":365,"v":0.024},
      {"k":"p1410","t":11.6,"v":0.35},{"k":"p1410","t":12.9,"v":0.36},{"k":"p1410","t":13.8,"v":0.33},{"k":"p1410","t":15,"v":0.34},{"k":"p1410","t":16,"v":0.29},{"k":"p1410","t":17,"v":0.3},{"k":"p1410","t":19,"v":0.27},{"k":"p1410","t":20.5,"v":0.29},{"k":"p1410","t":24.5,"v":0.25},{"k":"p1410","t":26.5,"v":0.23},{"k":"p1410","t":28.5,"v":0.25},{"k":"p1410","t":31,"v":0.23},{"k":"p1410","t":34,"v":0.2},{"k":"p1410","t":37,"v":0.2},{"k":"p1410","t":40.5,"v":0.18},{"k":"p1410","t":45,"v":0.19},{"k":"p1410","t":48,"v":0.16},{"k":"p1410","t":53,"v":0.14},{"k":"p1410","t":60,"v":0.13},{"k":"p1410","t":72,"v":0.11},{"k":"p1410","t":80,"v":0.12},{"k":"p1410","t":110,"v":0.08},{"k":"p1410","t":135,"v":0.07},{"k":"p1410","t":160,"v":0.05},{"k":"p1410","t":205,"v":0.04},{"k":"p1410","t":260,"v":0.02},{"k":"p1410","t":295,"v":0.01},{"k":"p1410","t":355,"v":-0.01},{"k":"p1410","t":420,"v":0.01},{"k":"p1410","t":470,"v":-0.015},{"k":"p1410","t":520,"v":0.005},{"k":"p1410","t":580,"v":-0.01}
    ],
    "fit": [
      {"f":"PTB7","t":0,"v":0.875},{"f":"PTB7","t":0.36,"v":0.83},{"f":"PTB7","t":0.84,"v":0.78},{"f":"PTB7","t":1.43,"v":0.728},{"f":"PTB7","t":2,"v":0.668},{"f":"PTB7","t":2.5,"v":0.62},{"f":"PTB7","t":3,"v":0.578},{"f":"PTB7","t":3.5,"v":0.545},{"f":"PTB7","t":4,"v":0.518},{"f":"PTB7","t":4.5,"v":0.495},{"f":"PTB7","t":5,"v":0.473},{"f":"PTB7","t":5.6,"v":0.452},{"f":"PTB7","t":6.2,"v":0.432},{"f":"PTB7","t":6.8,"v":0.414},{"f":"PTB7","t":7.4,"v":0.4},{"f":"PTB7","t":8,"v":0.388},{"f":"PTB7","t":8.7,"v":0.373},{"f":"PTB7","t":9.5,"v":0.36},
      {"f":"765","t":27.5,"v":0.99},{"f":"765","t":35,"v":0.985},{"f":"765","t":49,"v":0.965},{"f":"765","t":78,"v":0.935},{"f":"765","t":122,"v":0.89},{"f":"765","t":180,"v":0.84},{"f":"765","t":280,"v":0.78},{"f":"765","t":445,"v":0.715},{"f":"765","t":740,"v":0.64},{"f":"765","t":1090,"v":0.593},{"f":"765","t":1720,"v":0.535},{"f":"765","t":2570,"v":0.477},{"f":"765","t":2720,"v":0.47},
      {"f":"1410","t":14,"v":0.07},{"f":"1410","t":550,"v":0.07}
    ]
  },
  "hconcat": [
    {
      "width": 296,
      "height": 447,
      "resolve": {"scale": {"stroke": "independent", "fill": "independent", "shape": "independent", "strokeDash": "independent"}, "axis": {"x": "independent", "y": "independent"}},
      "layer": [
        {
          "data": {"values": [{}]},
          "mark": {"type": "rule", "strokeDash": [9, 7], "strokeWidth": 2, "color": "black"},
          "encoding": {
            "x": {"datum": 0.25, "type": "quantitative", "scale": {"domain": [-0.97, 9.6], "nice": false, "zero": false}, "axis": {"orient": "top", "labels": false, "ticks": false, "title": null, "domainWidth": 2}},
            "x2": {"datum": 9.6},
            "y": {"datum": 0, "type": "quantitative", "scale": {"domain": [-1.109, 1.065], "nice": false, "zero": false}, "axis": null}
          }
        },
        {
          "data": {"name": "d"},
          "transform": [{"filter": "datum.t < 9.8"}],
          "mark": {"type": "line", "strokeWidth": 1.3},
          "encoding": {
            "x": {"field": "t", "type": "quantitative", "scale": {"domain": [-0.97, 9.6], "nice": false, "zero": false},
              "axis": {"orient": "bottom", "values": [0, 2, 4, 6, 8], "tickSize": -6, "tickWidth": 1.5, "domainWidth": 2, "labelFontSize": 22, "labelFontWeight": "bold", "labelPadding": 15, "labelFlush": false, "labelOverlap": false, "title": "Pump - probe delay (ps)", "titleFontSize": 27, "titleFontWeight": "bold", "titlePadding": 19, "titleX": 317}},
            "y": {"field": "v", "type": "quantitative", "scale": {"domain": [-1.109, 1.065], "nice": false, "zero": false},
              "axis": {"orient": "left", "values": [-1, -0.75, -0.5, -0.25, 0, 0.25, 0.5, 0.75, 1], "labels": false, "tickSize": -7, "tickWidth": 1.5, "domainWidth": 2, "title": "-ΔT/T (normalized)", "titleFontSize": 23, "titleFontWeight": "normal", "titlePadding": 29, "titleY": 218}},
            "stroke": {"field": "k", "type": "nominal", "scale": {"domain": ["b555", "b765", "b1410", "p1410"], "range": ["#3d6cf0", "#ff8080", "#009a00", "#808080"]}, "legend": null},
            "strokeDash": {"field": "k", "type": "nominal", "scale": {"domain": ["b555", "b765", "b1410", "p1410"], "range": [[2, 2], [3, 3], [4, 3], [3, 3]]}, "legend": null}
          }
        },
        {
          "data": {"name": "d"},
          "transform": [{"filter": "datum.t < 9.8 && datum.k == 'p1410'"}],
          "mark": {"type": "point", "filled": false, "strokeWidth": 1.1, "size": 45, "opacity": 0.85},
          "encoding": {
            "x": {"field": "t", "type": "quantitative", "scale": {"domain": [-0.97, 9.6], "nice": false, "zero": false}, "axis": null},
            "y": {"field": "v", "type": "quantitative", "scale": {"domain": [-1.109, 1.065], "nice": false, "zero": false}, "axis": null},
            "stroke": {"field": "k", "type": "nominal", "scale": {"domain": ["p1410"], "range": ["#808080"]},
              "legend": {"title": "PTB7", "orient": "none", "legendX": 297, "legendY": 78, "padding": 0, "titleFontSize": 20, "titleFontWeight": "bold", "titlePadding": 4, "labelFontSize": 20, "labelFontWeight": "bold", "symbolSize": 100, "symbolOffset": 2, "labelOffset": 14, "symbolStrokeWidth": 1.2, "labelExpr": "'1410 nm'",
                "encode": {"symbols": {"update": {"shape": {"value": "M-2,0H-1.3M-0.75,0A0.75,0.75,0,1,1,0.75,0A0.75,0.75,0,1,1,-0.75,0ZM1.3,0H2"}, "fill": {"value": "transparent"}}}}}}
          }
        },
        {
          "data": {"name": "d"},
          "transform": [{"filter": "datum.t < 9.8 && datum.k != 'p1410'"}],
          "mark": {"type": "point", "filled": false, "strokeWidth": 1.1, "opacity": 0.85},
          "encoding": {
            "x": {"field": "t", "type": "quantitative", "scale": {"domain": [-0.97, 9.6], "nice": false, "zero": false}, "axis": null},
            "y": {"field": "v", "type": "quantitative", "scale": {"domain": [-1.109, 1.065], "nice": false, "zero": false}, "axis": null},
            "stroke": {"field": "k", "type": "nominal", "scale": {"domain": ["b555", "b765", "b1410"], "range": ["#3d6cf0", "#ff8080", "#009a00"]},
              "legend": {"title": "Blend", "orient": "none", "legendX": 69, "legendY": 256, "padding": 0, "titleFontSize": 20, "titleFontWeight": "bold", "titlePadding": 4, "labelFontSize": 20, "labelFontWeight": "bold", "rowPadding": 3.5, "symbolSize": 100, "symbolOffset": 2, "labelOffset": 12, "symbolStrokeWidth": 1.2,
                "labelExpr": "datum.value == 'b555' ? '555 nm' : datum.value == 'b765' ? '765 nm' : '1410 nm'",
                "encode": {"symbols": {"update": {
                  "shape": {"signal": "datum.value == 'b555' ? 'M-2,0H-1.3M-0.7,-0.7H0.7V0.7H-0.7ZM1.3,0H2' : datum.value == 'b765' ? 'M-2,0H-1.3M0,-0.85L0.85,0.65H-0.85ZM1.3,0H2' : 'M-2,0H-1.3M-0.85,0A0.85,0.85,0,1,1,0.85,0A0.85,0.85,0,1,1,-0.85,0ZM1.3,0H2'"},
                  "fill": {"signal": "datum.value == 'b1410' ? '#009a00' : 'transparent'"}}}}}},
            "fill": {"field": "k", "type": "nominal", "scale": {"domain": ["b555", "b765", "b1410"], "range": ["transparent", "transparent", "#009a00"]}},
            "shape": {"field": "k", "type": "nominal", "scale": {"domain": ["b555", "b765", "b1410"], "range": ["square", "triangle-up", "circle"]}},
            "size": {"field": "k", "type": "nominal", "scale": {"domain": ["b555", "b765", "b1410"], "range": [52, 58, 62]}, "legend": null}
          }
        },
        {
          "data": {"name": "fit"},
          "transform": [{"filter": "datum.t < 9.8"}],
          "mark": {"type": "line", "strokeWidth": 2, "color": "black"},
          "encoding": {
            "x": {"field": "t", "type": "quantitative", "scale": {"domain": [-0.97, 9.6], "nice": false, "zero": false}, "axis": null},
            "y": {"field": "v", "type": "quantitative", "scale": {"domain": [-1.109, 1.065], "nice": false, "zero": false}, "axis": null}
          }
        },
        {
          "data": {"values": [{}]},
          "mark": {"type": "rule", "strokeWidth": 1.5, "color": "black"},
          "encoding": {"x": {"datum": 9.42, "type": "quantitative", "axis": null}, "x2": {"datum": 9.775}, "y": {"datum": 1.109, "type": "quantitative", "axis": null}, "y2": {"datum": 0.997}}
        },
        {
          "data": {"values": [{}]},
          "mark": {"type": "rule", "strokeWidth": 1.5, "color": "black"},
          "encoding": {"x": {"datum": 9.88, "type": "quantitative", "axis": null}, "x2": {"datum": 10.16}, "y": {"datum": 1.109, "type": "quantitative", "axis": null}, "y2": {"datum": 0.997}}
        },
        {
          "data": {"values": [{}]},
          "mark": {"type": "rule", "strokeWidth": 1.5, "color": "black"},
          "encoding": {"x": {"datum": 9.42, "type": "quantitative", "axis": null}, "x2": {"datum": 9.7}, "y": {"datum": -1.055, "type": "quantitative", "axis": null}, "y2": {"datum": -1.167}}
        },
        {
          "data": {"values": [{}]},
          "mark": {"type": "rule", "strokeWidth": 1.5, "color": "black"},
          "encoding": {"x": {"datum": 9.81, "type": "quantitative", "axis": null}, "x2": {"datum": 10.06}, "y": {"datum": -1.055, "type": "quantitative", "axis": null}, "y2": {"datum": -1.167}}
        }
      ]
    },
    {
      "width": 289,
      "height": 447,
      "resolve": {"scale": {"stroke": "independent", "fill": "independent", "shape": "independent", "strokeDash": "independent", "size": "independent"}, "axis": {"x": "independent", "y": "independent"}},
      "layer": [
        {
          "data": {"values": [{}]},
          "mark": {"type": "rule", "strokeDash": [9, 7], "strokeWidth": 2, "color": "black"},
          "encoding": {
            "x": {"datum": 10, "type": "quantitative", "scale": {"type": "log", "domain": [10, 2720], "nice": false}, "axis": {"orient": "top", "labels": false, "ticks": false, "title": null, "domainWidth": 2}},
            "x2": {"datum": 2720},
            "y": {"datum": 0, "type": "quantitative", "scale": {"domain": [-1.109, 1.065], "nice": false, "zero": false}, "axis": null}
          }
        },
        {
          "data": {"name": "d"},
          "transform": [{"filter": "datum.t >= 9.8"}],
          "mark": {"type": "line", "strokeWidth": 1.3},
          "encoding": {
            "x": {"field": "t", "type": "quantitative", "scale": {"type": "log", "domain": [10, 2720], "nice": false},
              "axis": {"orient": "bottom", "values": [10, 100, 1000], "format": "d", "tickSize": -7, "tickWidth": 1.5, "tickOpacity": {"condition": {"test": "datum.value == 10", "value": 0}, "value": 1}, "domainWidth": 2, "labelFontSize": 22, "labelFontWeight": "bold", "labelPadding": 24, "labelFlush": false, "labelOverlap": false, "title": null}},
            "y": {"field": "v", "type": "quantitative", "scale": {"domain": [-1.109, 1.065], "nice": false, "zero": false}, "axis": null},
            "stroke": {"field": "k", "type": "nominal", "scale": {"domain": ["b555", "b765", "b1410", "p1410"], "range": ["#3d6cf0", "#ff8080", "#009a00", "#808080"]}, "legend": null},
            "strokeDash": {"field": "k", "type": "nominal", "scale": {"domain": ["b555", "b765", "b1410", "p1410"], "range": [[2, 2], [3, 3], [4, 3], [3, 3]]}, "legend": null}
          }
        },
        {
          "data": {"name": "d"},
          "transform": [{"filter": "datum.t >= 9.8 && datum.k == 'p1410'"}],
          "mark": {"type": "point", "filled": false, "strokeWidth": 1.1, "size": 45, "opacity": 0.85, "color": "#808080"},
          "encoding": {
            "x": {"field": "t", "type": "quantitative", "scale": {"type": "log", "domain": [10, 2720], "nice": false},
              "axis": {"orient": "bottom", "values": [20, 30, 40, 50, 60, 70, 80, 90, 200, 300, 400, 500, 600, 700, 800, 900, 2000], "labels": false, "domain": false, "tickSize": -4, "tickWidth": 1.5, "title": null}},
            "y": {"field": "v", "type": "quantitative", "scale": {"domain": [-1.109, 1.065], "nice": false, "zero": false}, "axis": null}
          }
        },
        {
          "data": {"name": "d"},
          "transform": [{"filter": "datum.t >= 9.8 && datum.k != 'p1410'"}],
          "mark": {"type": "point", "filled": false, "strokeWidth": 1.1, "opacity": 0.85},
          "encoding": {
            "x": {"field": "t", "type": "quantitative", "scale": {"type": "log", "domain": [10, 2720], "nice": false}, "axis": null},
            "y": {"field": "v", "type": "quantitative", "scale": {"domain": [-1.109, 1.065], "nice": false, "zero": false}, "axis": null},
            "stroke": {"field": "k", "type": "nominal", "scale": {"domain": ["b555", "b765", "b1410"], "range": ["#3d6cf0", "#ff8080", "#009a00"]}, "legend": null},
            "fill": {"field": "k", "type": "nominal", "scale": {"domain": ["b555", "b765", "b1410"], "range": ["transparent", "transparent", "#009a00"]}, "legend": null},
            "shape": {"field": "k", "type": "nominal", "scale": {"domain": ["b555", "b765", "b1410"], "range": ["square", "triangle-up", "circle"]}, "legend": null},
            "size": {"field": "k", "type": "nominal", "scale": {"domain": ["b555", "b765", "b1410"], "range": [52, 58, 62]}, "legend": null}
          }
        },
        {
          "data": {"name": "fit"},
          "transform": [{"filter": "datum.t >= 9.8"}],
          "mark": {"type": "line", "strokeWidth": 2},
          "encoding": {
            "x": {"field": "t", "type": "quantitative", "scale": {"type": "log", "domain": [10, 2720], "nice": false}, "axis": null},
            "y": {"field": "v", "type": "quantitative", "scale": {"domain": [-1.109, 1.065], "nice": false, "zero": false}, "axis": null},
            "stroke": {"field": "f", "type": "nominal", "scale": {"domain": ["765", "1410"], "range": ["#ff0000", "#009a00"]}, "legend": null}
          }
        }
      ]
    }
  ]
}
